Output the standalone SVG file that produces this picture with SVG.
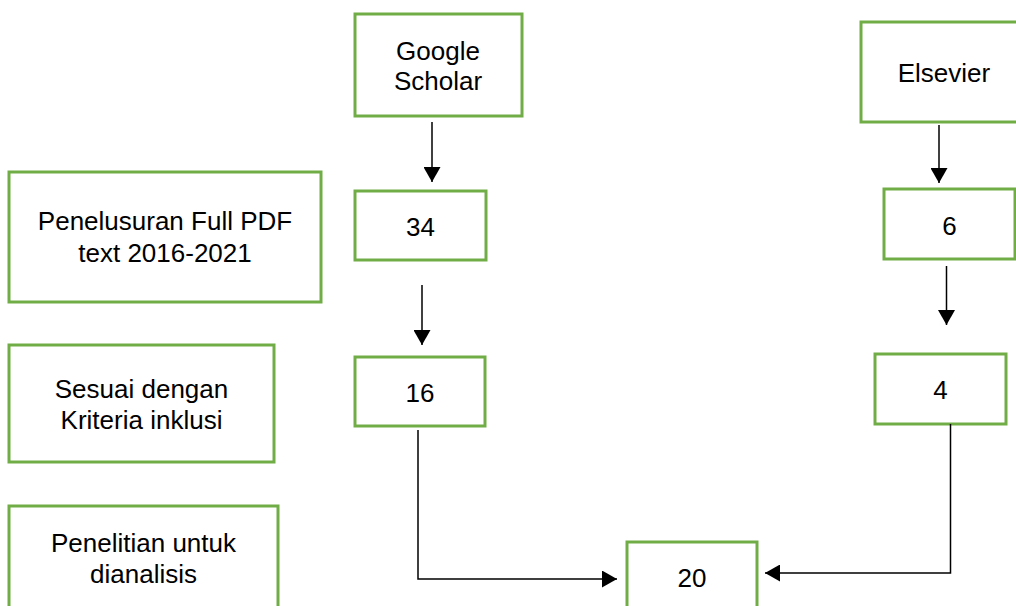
<svg xmlns="http://www.w3.org/2000/svg" width="1016" height="606" viewBox="0 0 1016 606">
  <style>
    .box { fill: #ffffff; stroke: #70AD47; stroke-width: 3; }
    .lbl { font-family: "Liberation Sans", Arial, sans-serif; font-size: 26px; fill: #000000; text-anchor: middle; }
    .conn { fill: none; stroke: #000000; stroke-width: 1.5; }
  </style>
  <defs>
    <marker id="arrow" markerUnits="userSpaceOnUse" markerWidth="16" markerHeight="17" refX="15" refY="8.5" orient="auto">
      <path d="M0,0 L15,8.5 L0,17 Z" fill="#000000"/>
    </marker>
  </defs>
  <rect width="1016" height="606" fill="#ffffff"/>

  <g id="google-scholar">
    <rect class="box" x="355" y="14" width="167" height="102"/>
    <text class="lbl" x="438" y="60">Google</text>
    <text class="lbl" x="438" y="90">Scholar</text>
  </g>
  <g id="elsevier">
    <rect class="box" x="861" y="22" width="170" height="100"/>
    <text class="lbl" x="944" y="82">Elsevier</text>
  </g>
  <g id="penelusuran">
    <rect class="box" x="9" y="172" width="312" height="130"/>
    <text class="lbl" x="165" y="230">Penelusuran Full PDF</text>
    <text class="lbl" x="165" y="262">text 2016-2021</text>
  </g>
  <g id="n34">
    <rect class="box" x="355" y="191" width="131" height="69"/>
    <text class="lbl" x="420.5" y="236">34</text>
  </g>
  <g id="n6">
    <rect class="box" x="884" y="189" width="131" height="70"/>
    <text class="lbl" x="949.5" y="235">6</text>
  </g>
  <g id="sesuai">
    <rect class="box" x="9" y="345" width="265" height="117"/>
    <text class="lbl" x="141.5" y="398">Sesuai dengan</text>
    <text class="lbl" x="141.5" y="429">Kriteria inklusi</text>
  </g>
  <g id="n16">
    <rect class="box" x="355" y="357" width="130" height="69"/>
    <text class="lbl" x="420" y="402">16</text>
  </g>
  <g id="n4">
    <rect class="box" x="875" y="354" width="131" height="70"/>
    <text class="lbl" x="940.5" y="399">4</text>
  </g>
  <g id="penelitian">
    <rect class="box" x="9" y="506" width="269" height="120"/>
    <text class="lbl" x="143.5" y="552">Penelitian untuk</text>
    <text class="lbl" x="143.5" y="583">dianalisis</text>
  </g>
  <g id="n20">
    <rect class="box" x="627" y="542" width="130" height="90"/>
    <text class="lbl" x="692" y="587">20</text>
  </g>

  <g id="connectors">
    <path class="conn" d="M432,122 V182" marker-end="url(#arrow)"/>
    <path class="conn" d="M939,125 V183" marker-end="url(#arrow)"/>
    <path class="conn" d="M422,285 V345" marker-end="url(#arrow)"/>
    <path class="conn" d="M946.5,266 V325" marker-end="url(#arrow)"/>
    <path class="conn" d="M418,430 V579 H617" marker-end="url(#arrow)"/>
    <path class="conn" d="M950.5,424 V573 H765" marker-end="url(#arrow)"/>
  </g>
</svg>
